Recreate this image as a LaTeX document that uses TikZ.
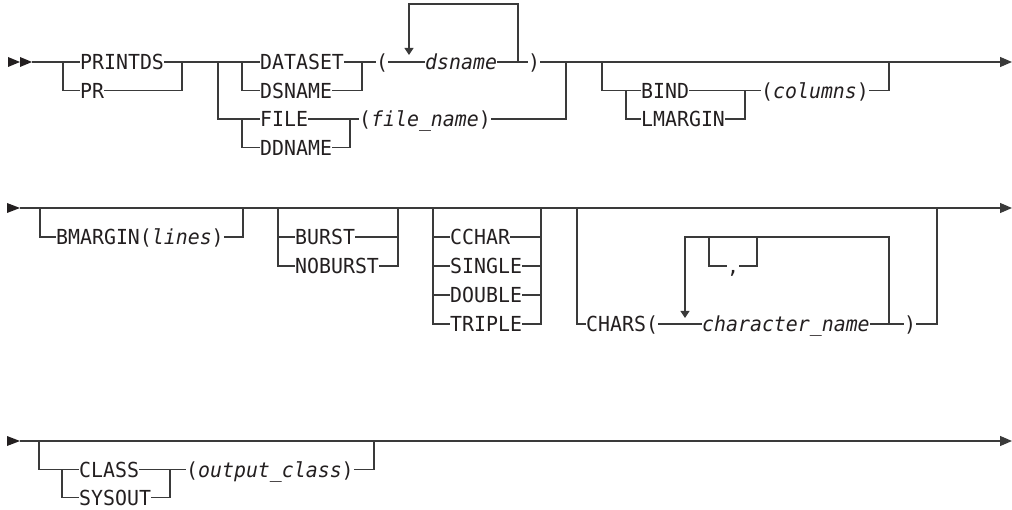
\documentclass[tikz,border=0pt]{standalone}
\usepackage{fontspec}
\newfontfamily\railfont{DejaVu Sans Mono}[ItalicFont={DejaVu Sans Mono Oblique},FakeStretch=0.96]
\usepackage{xcolor}
\definecolor{ink}{HTML}{231F20}
\definecolor{railgray}{HTML}{3A3A3A}
\usepackage{tikz}
\usetikzlibrary{arrows.meta}

\begin{document}
\begin{tikzpicture}[x=1pt,y=-1pt,
    rail/.style={draw=railgray,line width=1.2pt},
    word/.style={anchor=west,inner sep=0pt,text=ink,
      font=\railfont\fontsize{20.7}{24}\selectfont,
      text height=16pt,text depth=0pt},
    endtip/.style={-{Triangle[length=12pt,width=10pt]}},
    looptip/.style={-{Triangle[length=7pt,width=9pt]}}]
    \useasboundingbox (0,0) rectangle (1012,510);
    % first line
    \fill[ink] (8,57)--(20,62)--(8,67)--cycle;
    \fill[ink] (20,57)--(32,62)--(20,67)--cycle;
    \coordinate (in1) at (32,62);
    \coordinate (out1) at (1012,62);
    \coordinate (a1) at (63,62);
    \coordinate (a2) at (182,62);
    \coordinate (b1) at (218,62);
    \coordinate (b2) at (566,62);
    \coordinate (c1) at (242,62);
    \coordinate (c2) at (362,62);
    \coordinate (d1) at (242,119);
    \coordinate (d2) at (350,119);
    \coordinate (l1) at (409,4);
    \coordinate (l2) at (518,4);
    \coordinate (l1b) at (409,55);
    \coordinate (g1) at (602,62);
    \coordinate (g2) at (889,62);
    \coordinate (h1) at (626,90.5);
    \coordinate (h2) at (745,90.5);
    \node[word] (printds) at (80,62) {PRINTDS};
    \node[word] (pr) at (80,90.5) {PR};
    \node[word] (dataset) at (260,62) {DATASET};
    \node[word] (dsname) at (260,90.5) {DSNAME};
    \node[word] (file) at (260,119) {FILE};
    \node[word] (ddname) at (260,147.5) {DDNAME};
    \node[word] (lparen) at (376,62) {(};
    \node[word] (dsnamevar) at (425,62) {\textit{dsname}};
    \node[word] (rparen) at (528,62) {)};
    \node[word] (filename) at (359,119) {(\textit{file\_name})};
    \node[word] (bind) at (641,90.5) {BIND};
    \node[word] (lmargin) at (641,119) {LMARGIN};
    \node[word] (columns) at (761,90.5) {(\textit{columns})};
    \draw[rail] (in1) -- (printds);
    \draw[rail] (a1) |- (pr) -| (a2);
    \draw[rail] (printds) -- (dataset);
    \draw[rail] (c1) |- (dsname) -| (c2);
    \draw[rail] (dataset) -- (lparen);
    \draw[rail] (lparen) -- (dsnamevar);
    \draw[rail,looptip] (l2 |- dsnamevar) -- (l2) -- (l1) -- (l1b);
    \draw[rail] (dsnamevar) -- (rparen);
    \draw[rail,endtip] (rparen) -- (out1);
    \draw[rail] (b1) |- (file);
    \draw[rail] (file) -- (filename);
    \draw[rail] (d1) |- (ddname) -| (d2);
    \draw[rail] (filename) -| (b2);
    \draw[rail] (g1) |- (bind);
    \draw[rail] (bind) -- (columns);
    \draw[rail] (h1) |- (lmargin) -| (h2);
    \draw[rail] (columns) -| (g2);
    % second line
    \fill[ink] (7,203)--(20,208)--(7,213)--cycle;
    \coordinate (in2) at (20,208);
    \coordinate (out2) at (1012,208);
    \coordinate (p1) at (40,208);
    \coordinate (p2) at (243,208);
    \coordinate (q1) at (278,208);
    \coordinate (q2) at (398,208);
    \coordinate (r1) at (433,208);
    \coordinate (r2) at (541,208);
    \coordinate (k1) at (577,208);
    \coordinate (k2) at (937,208);
    \coordinate (t1) at (685,237);
    \coordinate (t2) at (889,237);
    \coordinate (t1b) at (685,318);
    \coordinate (u1) at (709,237);
    \coordinate (u2) at (757,237);
    \node[word] (bmargin) at (56,237) {BMARGIN(\textit{lines})};
    \node[word] (burst) at (295,237) {BURST};
    \node[word] (noburst) at (295,266) {NOBURST};
    \node[word] (cchar) at (450,237) {CCHAR};
    \node[word] (single) at (450,266) {SINGLE};
    \node[word] (double) at (450,295) {DOUBLE};
    \node[word] (triple) at (450,324) {TRIPLE};
    \node[word] (chars) at (586,324) {CHARS(};
    \node[word] (charname) at (702,324) {\textit{character\_name}};
    \node[word] (rparen2) at (904,324) {)};
    \node[word,anchor=center] (comma) at (733,266) {,};
    \draw[rail,endtip] (in2) -- (out2);
    \draw[rail] (p1) |- (bmargin) -| (p2);
    \draw[rail] (q1) |- (noburst) -| (q2);
    \draw[rail] (burst -| q1) -- (burst) -- (burst -| q2);
    \draw[rail] (r1) |- (triple) -| (r2);
    \foreach \n in {cchar,single,double}
      \draw[rail] (\n -| r1) -- (\n) -- (\n -| r2);
    \draw[rail] (k1) |- (chars);
    \draw[rail] (chars) -- (charname);
    \draw[rail,looptip] (t2 |- charname) -- (t2) -- (t1) -- (t1b);
    \draw[rail] (u1) |- (comma) -| (u2);
    \draw[rail] (charname) -- (rparen2);
    \draw[rail] (rparen2) -| (k2);
    % third line
    \fill[ink] (7,436)--(20,441)--(7,446)--cycle;
    \coordinate (in3) at (20,441);
    \coordinate (out3) at (1012,441);
    \coordinate (v1) at (39,441);
    \coordinate (v2) at (374,441);
    \coordinate (w1) at (62,469.5);
    \coordinate (w2) at (170,469.5);
    \node[word] (class) at (79,469.5) {CLASS};
    \node[word] (sysout) at (79,497.5) {SYSOUT};
    \node[word] (outclass) at (186,469.5) {(\textit{output\_class})};
    \draw[rail,endtip] (in3) -- (out3);
    \draw[rail] (v1) |- (class);
    \draw[rail] (class) -- (outclass);
    \draw[rail] (w1) |- (sysout) -| (w2);
    \draw[rail] (outclass) -| (v2);
  \end{tikzpicture}
\end{document}
